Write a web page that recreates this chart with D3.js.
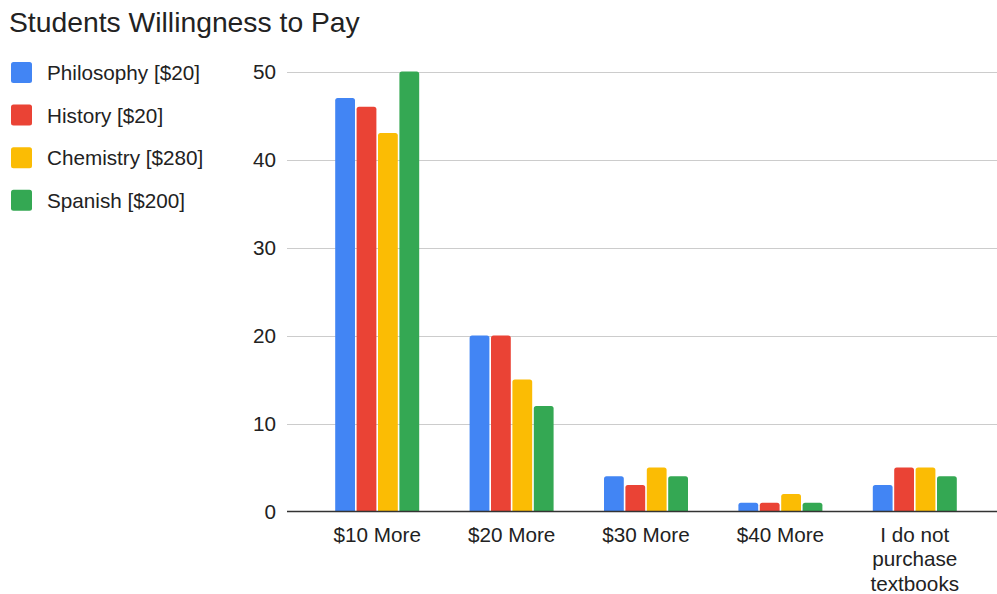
<!DOCTYPE html>
<html>
<head>
<meta charset="utf-8">
<script src="https://cdn.jsdelivr.net/npm/d3@7"></script>
<style>
  html, body { margin: 0; padding: 0; background: #fff; }
  svg { display: block; font-family: Arial, "Liberation Sans", sans-serif; }
</style>
</head>
<body>
<svg id="chart" width="997" height="594"></svg>
<script>
// Survey answers: how much extra students would pay for a textbook
const categories = ["$10 More", "$20 More", "$30 More", "$40 More", "I do not purchase textbooks"];
const seriesNames = ["Philosophy [$20]", "History [$20]", "Chemistry [$280]", "Spanish [$200]"];
const seriesColors = ["#4285F4", "#EA4335", "#FBBC04", "#34A853"];
const philosophy = [47, 20, 4, 1, 3];
const history = [46, 20, 3, 1, 5];
const chemistry = [43, 15, 5, 2, 5];
const spanish = [50, 12, 4, 1, 4];
const yTicks = [0, 10, 20, 30, 40, 50];
const categoryLines = [["$10 More"], ["$20 More"], ["$30 More"], ["$40 More"], ["I do not", "purchase", "textbooks"]];

const seriesValues = [philosophy, history, chemistry, spanish];

const svg = d3.select("#chart");

// Plot geometry
const plot = { left: 287, right: 997, top: 71.5, bottom: 511.5 };
const labelSize = 20.7;

const y = d3.scaleLinear().domain([0, 50]).range([plot.bottom, plot.top]);
const x = d3.scaleBand().domain(categories).range([310, 982]).paddingInner(0).paddingOuter(0);
const groupWidth = 84;
const xs = d3.scaleBand().domain(seriesNames).range([0, groupWidth]).paddingInner(0.075);

// Title
svg.append("text")
  .attr("x", 9).attr("y", 31.5)
  .attr("font-size", 28.3).attr("fill", "#222")
  .text("Students Willingness to Pay");

// Gridlines
svg.append("g").selectAll("line")
  .data(yTicks.filter(d => d !== 0))
  .join("line")
  .attr("x1", plot.left).attr("x2", plot.right)
  .attr("y1", d => Math.round(y(d)) + 0.5).attr("y2", d => Math.round(y(d)) + 0.5)
  .attr("stroke", "#cccccc").attr("stroke-width", 1);

// Y axis labels
const yAxis = d3.axisLeft(y).tickValues(yTicks).tickSize(0).tickPadding(0);
const yg = svg.append("g").attr("transform", "translate(276,0)").call(yAxis);
yg.select(".domain").remove();
yg.selectAll("text").attr("font-size", labelSize).attr("fill", "#222").attr("font-family", "Arial, 'Liberation Sans', sans-serif");

// Rounded-top bar path
function barPath(x0, w, yTop, yBase, r) {
  const h = yBase - yTop;
  const rr = Math.min(r, h / 2, w / 2);
  return `M${x0},${yBase}V${yTop + rr}Q${x0},${yTop} ${x0 + rr},${yTop}H${x0 + w - rr}Q${x0 + w},${yTop} ${x0 + w},${yTop + rr}V${yBase}Z`;
}

// Bars
const barData = [];
categories.forEach((c, ci) => {
  seriesNames.forEach((s, si) => {
    barData.push({ c, s, si, v: seriesValues[si][ci] });
  });
});

svg.append("g").selectAll("path")
  .data(barData)
  .join("path")
  .attr("d", d => {
    const cx = x(d.c) + x.bandwidth() / 2 - groupWidth / 2 + xs(d.s);
    return barPath(cx, xs.bandwidth(), y(d.v), y(0), 2.5);
  })
  .attr("fill", d => seriesColors[d.si]);

// Baseline
svg.append("line")
  .attr("x1", plot.left).attr("x2", plot.right)
  .attr("y1", y(0)).attr("y2", y(0))
  .attr("stroke", "#333").attr("stroke-width", 1.3);

// X axis labels
const xl = svg.append("g").selectAll("text")
  .data(categories)
  .join("text")
  .attr("x", d => x(d) + x.bandwidth() / 2)
  .attr("y", 542)
  .attr("text-anchor", "middle")
  .attr("font-size", labelSize).attr("fill", "#222");
xl.each(function(d, i) {
  const t = d3.select(this);
  categoryLines[i].forEach((line, li) => {
    t.append("tspan").attr("x", x(d) + x.bandwidth() / 2).attr("dy", li === 0 ? 0 : 24.3).text(line);
  });
});

// Legend
const legend = svg.append("g").selectAll("g")
  .data(seriesNames)
  .join("g")
  .attr("transform", (d, i) => `translate(11, ${62 + i * 42.6})`);
legend.append("rect")
  .attr("width", 21).attr("height", 21).attr("rx", 2.5)
  .attr("fill", (d, i) => seriesColors[i]);
legend.append("text")
  .attr("x", 36).attr("y", 18)
  .attr("font-size", labelSize).attr("fill", "#222")
  .text(d => d);
</script>
</body>
</html>
